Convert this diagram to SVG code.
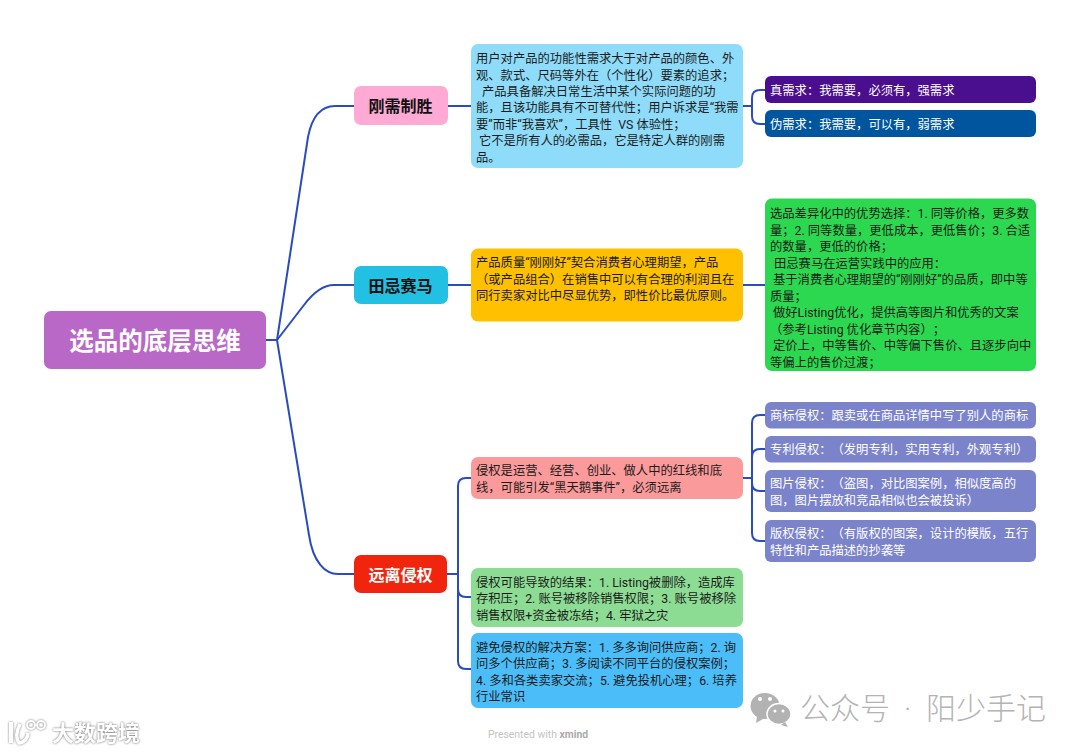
<svg xmlns="http://www.w3.org/2000/svg" width="1080" height="752" viewBox="0 0 1080 752">
<style>
text{font-family:Roboto,"Noto Sans CJK SC",sans-serif;text-spacing-trim:space-all;white-space:pre}
.c{fill:none;stroke:#2b4cbf;stroke-width:2}
.t{font-size:12.3px;fill:#1c1c1c}
.w{font-size:12.3px;fill:#fff}
.b{font-size:16px;font-weight:700;fill:#111;text-anchor:middle}
</style>
<rect width="1080" height="752" fill="#fff"/>
<g id="connectors" class="c">
<path d="M266 340H277"/>
<path d="M277 340L308 137Q314 106 335 106H354"/>
<path d="M277 340L304 305Q319 285 334 285H354"/>
<path d="M277 340L309 535C313 562 325 574 338 574H354"/>
<path d="M447 106H471"/>
<path d="M447 285H471"/>
<path d="M447 574H458"/>
<path d="M458 574V486Q458 478 466 478H471"/>
<path d="M458 574V589Q458 597 466 597H471"/>
<path d="M458 574V661Q458 669 466 669H471"/>
<path d="M743 106H752"/>
<path d="M752 106V98Q752 90 760 90H765"/>
<path d="M752 106V116Q752 124 760 124H765"/>
<path d="M743 285H765"/>
<path d="M743 478H752"/>
<path d="M752 478V423Q752 415 760 415H765"/>
<path d="M752 478V457Q752 449 760 449H765"/>
<path d="M752 478V483Q752 491 760 491H765"/>
<path d="M752 478V533Q752 541 760 541H765"/>
</g>
<g id="root"><rect x="44" y="311" width="222" height="58" rx="7" fill="#b968c7"/><text x="155" y="350" font-size="24.500" font-weight="700" fill="#fff" text-anchor="middle">选品的底层思维</text></g>
<g id="b1"><rect x="354" y="86" width="94" height="39" rx="7" fill="#ffaad5"/><text class="b" x="400.500" y="112">刚需制胜</text></g>
<g id="b2"><rect x="354" y="266" width="94" height="38" rx="7" fill="#22c0e2"/><text class="b" x="400.500" y="291.500">田忌赛马</text></g>
<g id="b3"><rect x="354" y="555" width="93" height="38" rx="7" fill="#f1240e"/><text class="b" x="400.500" y="580.500" style="fill:#fff">远离侵权</text></g>
<g id="n1"><rect x="471" y="44" width="272" height="124" rx="7" fill="#8fdcfa"/>
<text class="t" x="476" y="63">用户对产品的功能性需求大于对产品的颜色、外</text>
<text class="t" x="476" y="79.500">观、款式、尺码等外在（个性化）要素的追求；</text>
<text class="t" x="482" y="95.500">产品具备解决日常生活中某个实际问题的功</text>
<text class="t" x="476" y="112">能，且该功能具有不可替代性；用户诉求是“我需</text>
<text class="t" x="476" y="128.500">要”而非“我喜欢”，工具性  VS 体验性；</text>
<text class="t" x="479" y="145">它不是所有人的必需品，它是特定人群的刚需</text>
<text class="t" x="476" y="161.500">品。</text></g>
<g id="n2"><rect x="765" y="76" width="271" height="27" rx="6" fill="#4a0f8f"/><text class="w" x="770" y="94.500">真需求：我需要，必须有，强需求</text></g>
<g id="n3"><rect x="765" y="110" width="271" height="27" rx="6" fill="#00569e"/><text class="w" x="770" y="128.500">伪需求：我需要，可以有，弱需求</text></g>
<g id="n4"><rect x="471" y="248.500" width="272" height="73" rx="7" fill="#ffc000"/>
<text class="t" x="476" y="267">产品质量“刚刚好”契合消费者心理期望，产品</text>
<text class="t" x="476" y="283.500">（或产品组合）在销售中可以有合理的利润且在</text>
<text class="t" x="476" y="300">同行卖家对比中尽显优势，即性价比最优原则。</text></g>
<g id="n5"><rect x="765" y="198.500" width="271" height="172.500" rx="7" fill="#2bd84f"/>
<text class="t" x="770" y="218">选品差异化中的优势选择：1. 同等价格，更多数</text>
<text class="t" x="770" y="234.500">量；2. 同等数量，更低成本，更低售价；3. 合适</text>
<text class="t" x="770" y="251">的数量，更低的价格；</text>
<text class="t" x="774" y="267.500">田忌赛马在运营实践中的应用：</text>
<text class="t" x="773" y="284">基于消费者心理期望的“刚刚好”的品质，即中等</text>
<text class="t" x="770" y="300.500">质量；</text>
<text class="t" x="773" y="317">做好Listing优化，提供高等图片和优秀的文案</text>
<text class="t" x="770" y="333.500">（参考Listing 优化章节内容）；</text>
<text class="t" x="773" y="350">定价上，中等售价、中等偏下售价、且逐步向中</text>
<text class="t" x="770" y="366.500">等偏上的售价过渡；</text></g>
<g id="n6"><rect x="471" y="457" width="272" height="42" rx="7" fill="#fb9a9a"/>
<text class="t" x="476" y="475">侵权是运营、经营、创业、做人中的红线和底</text>
<text class="t" x="476" y="491.500">线，可能引发“黑天鹅事件”，必须远离</text></g>
<g id="n7"><rect x="765" y="402" width="271" height="26.500" rx="6" fill="#7b83cb"/><text class="w" x="770" y="420">商标侵权：跟卖或在商品详情中写了别人的商标</text></g>
<g id="n8"><rect x="765" y="436" width="271" height="26.500" rx="6" fill="#7b83cb"/><text class="w" x="770" y="454">专利侵权：（发明专利，实用专利，外观专利）</text></g>
<g id="n9"><rect x="765" y="470" width="271" height="42" rx="6" fill="#7b83cb"/><text class="w" x="770" y="488">图片侵权：（盗图，对比图案例，相似度高的</text><text class="w" x="770" y="505">图，图片摆放和竞品相似也会被投诉）</text></g>
<g id="n10"><rect x="765" y="520" width="271" height="42" rx="6" fill="#7b83cb"/><text class="w" x="770" y="538">版权侵权：（有版权的图案，设计的模版，五行</text><text class="w" x="770" y="555">特性和产品描述的抄袭等</text></g>
<g id="n11"><rect x="471" y="568" width="272" height="59" rx="7" fill="#8ddc94"/>
<text class="t" x="476" y="586.500">侵权可能导致的结果：1. Listing被删除，造成库</text>
<text class="t" x="476" y="603">存积压；2. 账号被移除销售权限；3. 账号被移除</text>
<text class="t" x="476" y="619.500">销售权限+资金被冻结；4. 牢狱之灾</text></g>
<g id="n12"><rect x="471" y="633" width="272" height="75" rx="7" fill="#4bbdf8"/>
<text class="t" x="476" y="651.500">避免侵权的解决方案：1. 多多询问供应商；2. 询</text>
<text class="t" x="476" y="668">问多个供应商；3. 多阅读不同平台的侵权案例；</text>
<text class="t" x="476" y="684.500">4. 多和各类卖家交流；5. 避免投机心理；6. 培养</text>
<text class="t" x="476" y="701">行业常识</text></g>
<text x="488" y="738" font-size="10.400" fill="#c4c4c4">Presented with <tspan font-weight="700" fill="#aaa">xmind</tspan></text>
<g fill="#b2b2b2"><ellipse cx="765" cy="706" rx="14.500" ry="13"/><path d="M757 716l-1 7 7-4z"/></g>
<g fill="#b2b2b2" stroke="#fff" stroke-width="1.500"><ellipse cx="779" cy="714" rx="12" ry="10.500"/></g><path d="M785 722l3 5-7-2z" fill="#b2b2b2"/>
<g fill="#fff"><circle cx="760" cy="699" r="2"/><circle cx="770" cy="699" r="2"/><circle cx="775" cy="711" r="1.500"/><circle cx="783" cy="711" r="1.500"/></g>
<text x="800" y="719" font-size="30" fill="#b4b4b4" font-weight="300">公众号<tspan x="904">·</tspan><tspan x="926">阳少手记</tspan></text>
<g fill="none" stroke="#fff" style="filter:drop-shadow(0 0 1px #777)"><path d="M11 722V743" stroke-width="4"/><path d="M28 733A10 10 0 0 1 19 743Q14 736 20 724" stroke-width="3.500"/><circle cx="31" cy="725" r="4" stroke-width="2"/><circle cx="41" cy="725" r="4" stroke-width="2"/></g>
<text x="52" y="741" font-size="22" font-weight="700" fill="#fff" style="filter:drop-shadow(0 0 1px #666)">大数跨境</text>
</svg>
